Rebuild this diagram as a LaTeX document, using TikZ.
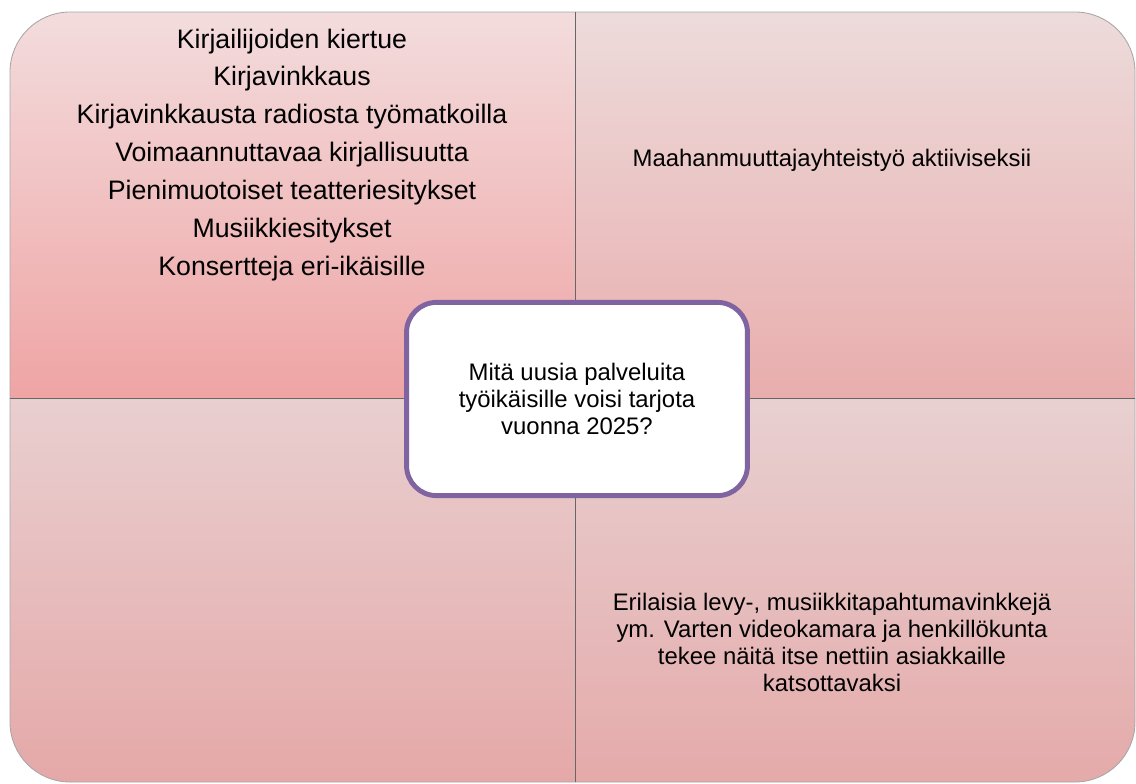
\documentclass[tikz,border=0pt]{standalone}
\usepackage{fontspec}
\setmainfont{Liberation Sans}
\usetikzlibrary{shadows}

\definecolor{tlTop}{HTML}{F3DCDD}
\definecolor{tlBot}{HTML}{EFA4A4}
\definecolor{trTop}{HTML}{EDDBDB}
\definecolor{trBot}{HTML}{E9ADAD}
\definecolor{blTop}{HTML}{E9CFD0}
\definecolor{blBot}{HTML}{E5A8A8}
\definecolor{brTop}{HTML}{E8D0D1}
\definecolor{brBot}{HTML}{E5AAAA}
\definecolor{frame}{HTML}{8064A2}

\begin{document}
\begin{tikzpicture}[x=0.025cm, y=-0.025cm,
  listtext/.style={align=center, font=\fontsize{19}{27}\selectfont},
  quadtext/.style={align=center, font=\fontsize{17}{19.2}\selectfont},
  question/.style={draw=frame, line width=3.5pt, fill=white, rounded corners=0.75cm,
    minimum width=8.52cm, minimum height=4.83cm, align=center,
    font=\fontsize{17}{19.2}\selectfont,
    drop shadow={shadow xshift=1pt, shadow yshift=-1.5pt, opacity=0.3}}]
\useasboundingbox (0,0) rectangle (1136,783);

% quadrants
\begin{scope}
\clip[rounded corners=1.5cm] (10,12) rectangle (1135,782);
\shade[top color=tlTop, bottom color=tlBot] (10,12) rectangle (575,398);
\shade[top color=trTop, bottom color=trBot] (575,12) rectangle (1135,398);
\shade[top color=blTop, bottom color=blBot] (10,398) rectangle (575,782);
\shade[top color=brTop, bottom color=brBot] (575,398) rectangle (1135,782);
\end{scope}
\draw[gray!70, line width=0.6pt, rounded corners=1.5cm] (10,12) rectangle (1135,782);

% dividers
\coordinate (top) at (575,12);
\coordinate (bottom) at (575,782);
\coordinate (left) at (10,398);
\coordinate (right) at (1135,398);
\draw[black!60, line width=0.6pt] (top) -- (bottom);
\draw[black!60, line width=0.6pt] (left) -- (right);

% texts
\node[listtext] (events) at (292,155) {Kirjailijoiden kiertue\\Kirjavinkkaus\\Kirjavinkkausta radiosta työmatkoilla\\Voimaannuttavaa kirjallisuutta\\Pienimuotoiset teatteriesitykset\\Musiikkiesitykset\\Konsertteja eri-ikäisille};
\node[quadtext] (immigrants) at (832,160) {Maahanmuuttajayhteistyö aktiiviseksii};
\node[quadtext] (videos) at (832,642) {Erilaisia levy-, musiikkitapahtumavinkkejä\\ym. Varten videokamara ja henkillökunta\\tekee näitä itse nettiin asiakkaille\\katsottavaksi};

% centre
\node[question] (q) at (577,399) {Mitä uusia palveluita\\työikäisille voisi tarjota\\vuonna 2025?};
\end{tikzpicture}
\end{document}
